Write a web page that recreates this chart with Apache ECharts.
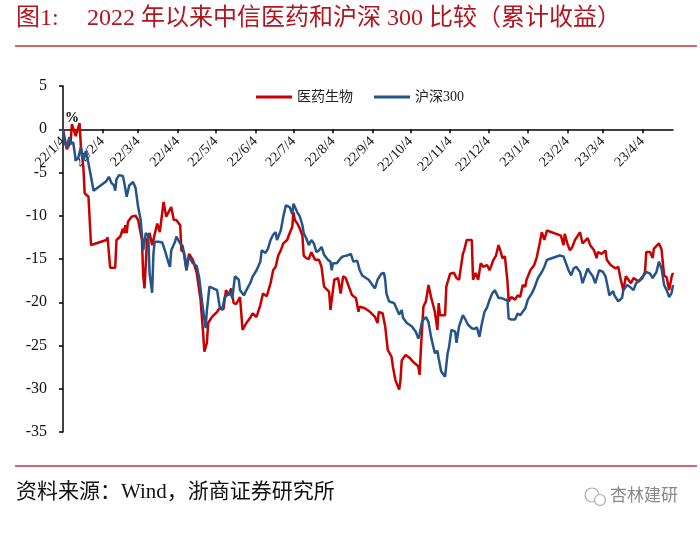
<!DOCTYPE html>
<html>
<head>
<meta charset="utf-8">
<title>医药生物 vs 沪深300</title>
<script src="https://cdn.jsdelivr.net/npm/echarts@6/dist/echarts.min.js"></script>
<style>
  html, body { margin: 0; padding: 0; background: #fff; }
  #main { width: 700px; height: 535px; }
</style>
</head>
<body>
<div id="main"></div>
<script>
// 累计收益（%），按日期读图
var seriesNames = ['医药生物', '沪深300']

var tickLabels = ['22/1/4', '22/2/4', '22/3/4', '22/4/4', '22/5/4', '22/6/4', '22/7/4', '22/8/4',
  '22/9/4', '22/10/4', '22/11/4', '22/12/4', '23/1/4', '23/2/4', '23/3/4', '23/4/4']

var yTicks = [5, 0, -5, -10, -15, -20, -25, -30, -35]

var xRange = ['2022-01-04', '2023-04-28']

var medData = [
  ['2022-01-04', 0], ['2022-01-07', -2.3], ['2022-01-10', -1.5], ['2022-01-11', 0.6], ['2022-01-14', -0.8], ['2022-01-17', 0.7],
  ['2022-01-18', -1.9], ['2022-01-20', -4.4], ['2022-01-21', -7.4], ['2022-01-24', -7.8], ['2022-01-26', -13.4], ['2022-01-28', -13.3],
  ['2022-02-07', -12.8], ['2022-02-08', -12.5], ['2022-02-10', -16.0], ['2022-02-14', -16.0], ['2022-02-15', -12.8], ['2022-02-18', -12.4],
  ['2022-02-20', -11.5], ['2022-02-21', -12.0], ['2022-02-22', -11.1], ['2022-02-23', -12.0], ['2022-02-24', -10.7], ['2022-02-27', -10.1],
  ['2022-03-02', -10.0], ['2022-03-04', -10.5], ['2022-03-07', -12.8], ['2022-03-08', -17.0], ['2022-03-09', -18.4], ['2022-03-11', -12.8],
  ['2022-03-13', -12.0], ['2022-03-15', -13.4], ['2022-03-19', -10.9], ['2022-03-21', -11.9], ['2022-03-24', -8.4], ['2022-03-26', -10.1],
  ['2022-03-30', -9.0], ['2022-04-01', -10.5], ['2022-04-03', -10.5], ['2022-04-06', -11.1], ['2022-04-07', -14.0], ['2022-04-09', -14.2],
  ['2022-04-11', -16.3], ['2022-04-13', -14.4], ['2022-04-16', -15.1], ['2022-04-19', -16.6], ['2022-04-22', -19.7], ['2022-04-24', -23.5],
  ['2022-04-25', -25.7], ['2022-04-27', -24.7], ['2022-04-28', -22.4], ['2022-05-01', -21.7], ['2022-05-05', -21.1], ['2022-05-07', -20.7],
  ['2022-05-10', -20.8], ['2022-05-12', -18.6], ['2022-05-14', -19.2], ['2022-05-16', -18.4], ['2022-05-18', -20.1], ['2022-05-20', -20.2],
  ['2022-05-23', -19.4], ['2022-05-25', -23.2], ['2022-05-28', -22.4], ['2022-05-31', -21.8], ['2022-06-02', -21.3], ['2022-06-05', -21.7],
  ['2022-06-08', -20.3], ['2022-06-10', -19.0], ['2022-06-13', -19.3], ['2022-06-16', -17.8], ['2022-06-18', -16.3], ['2022-06-20', -15.9],
  ['2022-06-22', -14.6], ['2022-06-24', -14.0], ['2022-06-26', -13.2], ['2022-06-29', -12.8], ['2022-07-01', -12.0], ['2022-07-03', -11.3],
  ['2022-07-04', -9.6], ['2022-07-05', -10.5], ['2022-07-07', -10.9], ['2022-07-09', -11.5], ['2022-07-11', -12.3], ['2022-07-12', -14.6],
  ['2022-07-14', -14.9], ['2022-07-16', -15.0], ['2022-07-18', -14.2], ['2022-07-21', -15.1], ['2022-07-24', -15.1], ['2022-07-26', -15.9],
  ['2022-07-28', -18.2], ['2022-08-01', -18.8], ['2022-08-02', -20.9], ['2022-08-04', -18.6], ['2022-08-05', -17.4], ['2022-08-08', -17.2],
  ['2022-08-10', -19.0], ['2022-08-12', -17.0], ['2022-08-14', -17.2], ['2022-08-16', -18.0], ['2022-08-19', -19.2], ['2022-08-22', -19.5],
  ['2022-08-24', -21.1], ['2022-08-25', -20.5], ['2022-08-29', -20.7], ['2022-09-02', -21.1], ['2022-09-06', -21.7], ['2022-09-08', -22.4],
  ['2022-09-09', -21.1], ['2022-09-12', -21.3], ['2022-09-14', -22.8], ['2022-09-16', -25.5], ['2022-09-19', -26.3], ['2022-09-20', -27.4],
  ['2022-09-22', -29.0], ['2022-09-25', -30.1], ['2022-09-26', -29.0], ['2022-09-27', -26.7], ['2022-09-30', -26.1], ['2022-10-03', -26.4],
  ['2022-10-06', -26.9], ['2022-10-10', -27.4], ['2022-10-11', -28.4], ['2022-10-12', -25.5], ['2022-10-14', -20.5], ['2022-10-16', -19.9],
  ['2022-10-18', -18.0], ['2022-10-20', -19.4], ['2022-10-21', -19.4], ['2022-10-23', -21.1], ['2022-10-25', -23.2], ['2022-10-26', -20.1],
  ['2022-10-27', -21.5], ['2022-10-31', -21.5], ['2022-11-01', -18.2], ['2022-11-04', -16.7], ['2022-11-07', -16.6], ['2022-11-09', -17.2],
  ['2022-11-11', -17.4], ['2022-11-14', -14.4], ['2022-11-15', -14.0], ['2022-11-17', -12.8], ['2022-11-21', -12.8], ['2022-11-22', -17.4],
  ['2022-11-24', -16.6], ['2022-11-26', -17.4], ['2022-11-28', -15.5], ['2022-11-30', -15.9], ['2022-12-03', -15.7], ['2022-12-05', -16.3],
  ['2022-12-08', -15.1], ['2022-12-10', -14.6], ['2022-12-12', -13.4], ['2022-12-14', -14.3], ['2022-12-15', -14.9], ['2022-12-17', -14.7],
  ['2022-12-19', -17.6], ['2022-12-20', -19.9], ['2022-12-22', -19.4], ['2022-12-25', -19.7], ['2022-12-27', -19.2], ['2022-12-29', -19.4],
  ['2022-12-31', -18.0], ['2023-01-02', -18.2], ['2023-01-03', -17.4], ['2023-01-06', -16.3], ['2023-01-09', -15.7], ['2023-01-11', -14.8],
  ['2023-01-13', -13.4], ['2023-01-15', -11.9], ['2023-01-17', -12.8], ['2023-01-19', -11.7], ['2023-01-20', -11.7], ['2023-01-30', -12.3],
  ['2023-02-01', -13.4], ['2023-02-02', -12.1], ['2023-02-04', -13.2], ['2023-02-06', -14.0], ['2023-02-08', -13.6], ['2023-02-10', -12.8],
  ['2023-02-14', -11.9], ['2023-02-16', -13.2], ['2023-02-17', -13.4], ['2023-02-20', -12.6], ['2023-02-22', -13.4], ['2023-02-25', -14.0],
  ['2023-02-27', -14.9], ['2023-02-28', -14.2], ['2023-03-03', -14.4], ['2023-03-06', -14.0], ['2023-03-07', -15.1], ['2023-03-10', -15.7],
  ['2023-03-14', -16.1], ['2023-03-16', -15.9], ['2023-03-18', -17.4], ['2023-03-20', -18.6], ['2023-03-22', -17.0], ['2023-03-23', -16.9],
  ['2023-03-26', -17.8], ['2023-03-28', -17.2], ['2023-03-29', -17.0], ['2023-04-01', -17.6], ['2023-04-04', -17.2], ['2023-04-06', -16.5],
  ['2023-04-07', -14.2], ['2023-04-10', -14.2], ['2023-04-12', -14.9], ['2023-04-13', -13.8], ['2023-04-17', -13.2], ['2023-04-19', -13.9],
  ['2023-04-21', -16.9], ['2023-04-23', -17.1], ['2023-04-25', -18.6], ['2023-04-27', -17.0], ['2023-04-28', -16.6]
]

var hs300Data = [
  ['2022-01-04', 0], ['2022-01-05', -1.5], ['2022-01-07', -2.1], ['2022-01-09', -0.9], ['2022-01-10', -1.7], ['2022-01-12', -1.5],
  ['2022-01-14', -3.6], ['2022-01-16', -3.3], ['2022-01-18', -2.1], ['2022-01-20', -3.6], ['2022-01-22', -2.5], ['2022-01-23', -3.2],
  ['2022-01-24', -3.1], ['2022-01-26', -5.5], ['2022-01-28', -7.1], ['2022-02-07', -6.0], ['2022-02-08', -5.8], ['2022-02-09', -5.5],
  ['2022-02-11', -6.2], ['2022-02-13', -6.5], ['2022-02-14', -7.1], ['2022-02-15', -5.8], ['2022-02-17', -5.3], ['2022-02-20', -5.4],
  ['2022-02-21', -6.1], ['2022-02-23', -7.8], ['2022-02-25', -6.5], ['2022-02-28', -6.1], ['2022-03-01', -6.2], ['2022-03-02', -6.8],
  ['2022-03-04', -9.0], ['2022-03-06', -10.5], ['2022-03-08', -14.0], ['2022-03-10', -12.0], ['2022-03-12', -12.3], ['2022-03-13', -16.7],
  ['2022-03-15', -18.9], ['2022-03-16', -14.4], ['2022-03-17', -13.0], ['2022-03-20', -13.0], ['2022-03-23', -13.1], ['2022-03-25', -14.0],
  ['2022-03-28', -15.5], ['2022-03-29', -15.9], ['2022-03-30', -14.0], ['2022-04-02', -13.0], ['2022-04-03', -12.4], ['2022-04-06', -13.2],
  ['2022-04-08', -13.5], ['2022-04-11', -16.3], ['2022-04-12', -14.8], ['2022-04-14', -15.0], ['2022-04-16', -15.5], ['2022-04-19', -15.8],
  ['2022-04-21', -17.2], ['2022-04-24', -20.9], ['2022-04-26', -23.0], ['2022-04-27', -20.9], ['2022-04-29', -18.2], ['2022-05-02', -18.4],
  ['2022-05-05', -18.6], ['2022-05-07', -20.5], ['2022-05-09', -20.9], ['2022-05-11', -19.4], ['2022-05-13', -19.2], ['2022-05-15', -18.8],
  ['2022-05-17', -19.5], ['2022-05-19', -17.0], ['2022-05-22', -17.4], ['2022-05-23', -18.6], ['2022-05-26', -19.2], ['2022-05-28', -18.6],
  ['2022-05-31', -17.8], ['2022-06-02', -17.0], ['2022-06-05', -16.3], ['2022-06-08', -15.3], ['2022-06-09', -14.0], ['2022-06-12', -14.3],
  ['2022-06-14', -13.8], ['2022-06-16', -12.8], ['2022-06-18', -12.2], ['2022-06-20', -11.9], ['2022-06-21', -12.8], ['2022-06-24', -11.7],
  ['2022-06-26', -10.1], ['2022-06-28', -8.8], ['2022-07-01', -9.0], ['2022-07-03', -9.8], ['2022-07-04', -8.6], ['2022-07-07', -9.6],
  ['2022-07-09', -10.1], ['2022-07-11', -11.1], ['2022-07-12', -12.0], ['2022-07-14', -12.6], ['2022-07-16', -13.4], ['2022-07-18', -12.8],
  ['2022-07-20', -13.2], ['2022-07-22', -14.2], ['2022-07-24', -14.0], ['2022-07-26', -13.6], ['2022-07-28', -14.5], ['2022-07-31', -15.1],
  ['2022-08-02', -15.3], ['2022-08-03', -16.3], ['2022-08-04', -15.5], ['2022-08-07', -15.5], ['2022-08-10', -14.9], ['2022-08-12', -14.7],
  ['2022-08-15', -14.6], ['2022-08-18', -14.4], ['2022-08-20', -15.3], ['2022-08-23', -15.2], ['2022-08-25', -16.3], ['2022-08-27', -16.9],
  ['2022-08-29', -17.1], ['2022-09-01', -17.4], ['2022-09-03', -17.8], ['2022-09-06', -18.4], ['2022-09-08', -17.4], ['2022-09-11', -16.7],
  ['2022-09-13', -16.6], ['2022-09-14', -17.4], ['2022-09-15', -19.0], ['2022-09-17', -19.9], ['2022-09-19', -20.0], ['2022-09-21', -20.1],
  ['2022-09-24', -21.1], ['2022-09-25', -21.4], ['2022-09-27', -20.9], ['2022-09-28', -21.8], ['2022-10-01', -22.4], ['2022-10-05', -22.8],
  ['2022-10-08', -23.4], ['2022-10-10', -24.2], ['2022-10-11', -23.7], ['2022-10-13', -22.2], ['2022-10-16', -21.7], ['2022-10-18', -22.3],
  ['2022-10-20', -24.0], ['2022-10-23', -25.9], ['2022-10-25', -25.6], ['2022-10-26', -26.5], ['2022-10-28', -28.0], ['2022-10-31', -28.6],
  ['2022-11-02', -25.9], ['2022-11-03', -25.3], ['2022-11-05', -23.2], ['2022-11-08', -23.4], ['2022-11-09', -24.7], ['2022-11-11', -22.8],
  ['2022-11-14', -21.5], ['2022-11-16', -22.0], ['2022-11-18', -22.6], ['2022-11-21', -23.0], ['2022-11-23', -23.1], ['2022-11-25', -22.9],
  ['2022-11-27', -24.0], ['2022-11-29', -22.4], ['2022-12-01', -21.1], ['2022-12-03', -20.6], ['2022-12-05', -19.7], ['2022-12-07', -19.0],
  ['2022-12-09', -18.6], ['2022-12-12', -19.5], ['2022-12-14', -19.5], ['2022-12-17', -19.7], ['2022-12-19', -19.7], ['2022-12-20', -21.9],
  ['2022-12-22', -22.0], ['2022-12-25', -22.0], ['2022-12-27', -21.3], ['2022-12-29', -21.5], ['2022-12-31', -21.1], ['2023-01-02', -20.7],
  ['2023-01-04', -19.7], ['2023-01-07', -19.0], ['2023-01-09', -18.4], ['2023-01-12', -17.2], ['2023-01-15', -16.5], ['2023-01-17', -15.9],
  ['2023-01-19', -15.1], ['2023-01-21', -15.0], ['2023-01-25', -14.8], ['2023-01-29', -14.6], ['2023-02-01', -14.7], ['2023-02-02', -15.1],
  ['2023-02-05', -16.3], ['2023-02-07', -16.9], ['2023-02-09', -16.1], ['2023-02-11', -15.9], ['2023-02-14', -16.5], ['2023-02-16', -17.8],
  ['2023-02-19', -16.5], ['2023-02-20', -16.1], ['2023-02-22', -16.6], ['2023-02-24', -17.0], ['2023-02-26', -17.8], ['2023-03-01', -16.3],
  ['2023-03-04', -16.5], ['2023-03-06', -17.0], ['2023-03-08', -18.4], ['2023-03-09', -19.2], ['2023-03-12', -18.7], ['2023-03-13', -19.2],
  ['2023-03-16', -19.9], ['2023-03-19', -19.5], ['2023-03-20', -18.6], ['2023-03-23', -18.0], ['2023-03-25', -18.2], ['2023-03-28', -18.6],
  ['2023-03-30', -17.8], ['2023-04-02', -17.4], ['2023-04-05', -16.9], ['2023-04-07', -16.5], ['2023-04-10', -16.7], ['2023-04-12', -17.2],
  ['2023-04-15', -16.5], ['2023-04-17', -15.3], ['2023-04-19', -16.1], ['2023-04-21', -18.0], ['2023-04-23', -18.6], ['2023-04-25', -19.4],
  ['2023-04-27', -18.9], ['2023-04-28', -18.0]
]

var serifFont = '"Liberation Serif", "Noto Sans CJK SC", serif'
var cjkFont = '"Liberation Serif", "Noto Sans CJK SC", sans-serif'

// 日期字符串 -> 时间戳（本地时间）
function toTime (s) {
  var p = s.split('-').map(Number)
  return new Date(p[0], p[1] - 1, p[2]).getTime()
}

var tickTimes = tickLabels.map(function (s) {
  var p = s.split('/').map(Number)
  return new Date(2000 + p[0], p[1] - 1, p[2]).getTime()
})

function toPoints (arr) {
  return arr.map(function (d) {
    return [toTime(d[0]), d[1]]
  })
}

var gridTop = 86
var gridBottom = 103
var yMin = -35
var yMax = 5
// 横轴放在 0 线上（连同标签一起上移）
var plotHeight = 535 - gridTop - gridBottom
var zeroOffset = -plotHeight * (0 - yMin) / (yMax - yMin)

var myChart = echarts.init(document.getElementById('main'), null, { renderer: 'canvas' })

var option = {
  backgroundColor: '#fff',
  animation: false,
  legend: {
    data: seriesNames,
    left: 251,
    top: 85,
    icon: 'rect',
    itemWidth: 36,
    itemHeight: 3,
    itemGap: 21,
    textStyle: {
      fontFamily: cjkFont,
      fontSize: 14,
      color: '#222'
    }
  },
  grid: {
    left: 63,
    right: 27,
    top: gridTop,
    bottom: gridBottom,
    containLabel: false
  },
  xAxis: {
    type: 'value',
    min: toTime(xRange[0]),
    max: toTime(xRange[1]),
    position: 'bottom',
    offset: zeroOffset,
    axisLine: {
      onZero: false,
      lineStyle: { color: '#000', width: 1.5 }
    },
    axisTick: {
      show: true,
      length: 4,
      customValues: tickTimes,
      lineStyle: { color: '#000', width: 1.5 }
    },
    axisLabel: {
      customValues: tickTimes,
      rotate: 45,
      margin: 10,
      color: '#111',
      fontFamily: serifFont,
      fontSize: 14,
      formatter: function (v) {
        var i = tickTimes.indexOf(v)
        return i >= 0 ? tickLabels[i] : ''
      }
    },
    splitLine: { show: false }
  },
  yAxis: {
    type: 'value',
    min: yMin,
    max: yMax,
    interval: 5,
    axisLine: {
      show: true,
      lineStyle: { color: '#000', width: 1.5 }
    },
    axisTick: {
      show: true,
      length: 4,
      lineStyle: { color: '#000', width: 1.5 }
    },
    axisLabel: {
      margin: 16,
      color: '#111',
      fontFamily: serifFont,
      fontSize: 16,
      formatter: function (v) {
        return yTicks.indexOf(v) >= 0 ? String(v) : ''
      }
    },
    splitLine: { show: false }
  },
  series: [
    {
      name: seriesNames[0],
      type: 'line',
      symbol: 'none',
      smooth: false,
      lineStyle: { color: '#C80000', width: 2.5 },
      itemStyle: { color: '#C80000' },
      data: toPoints(medData)
    },
    {
      name: seriesNames[1],
      type: 'line',
      symbol: 'none',
      smooth: false,
      lineStyle: { color: '#24548A', width: 2.5 },
      itemStyle: { color: '#24548A' },
      data: toPoints(hs300Data)
    }
  ],
  graphic: [
    {
      type: 'text',
      left: 16,
      top: 7,
      style: { text: '图1:', fill: '#B4141E', font: '24px ' + cjkFont }
    },
    {
      type: 'text',
      left: 87,
      top: 7,
      style: { text: '2022 年以来中信医药和沪深 300 比较（累计收益）', fill: '#B4141E', font: '24px ' + cjkFont }
    },
    {
      type: 'line',
      shape: { x1: 15, y1: 46, x2: 697, y2: 46 },
      style: { stroke: '#C8323A', lineWidth: 1.5 }
    },
    {
      type: 'text',
      left: 65,
      top: 111,
      style: { text: '%', fill: '#000', font: 'bold 14px ' + serifFont }
    },
    {
      type: 'line',
      shape: { x1: 15, y1: 466, x2: 697, y2: 466 },
      style: { stroke: '#C8323A', lineWidth: 1.5 }
    },
    {
      type: 'text',
      left: 16,
      top: 482,
      style: { text: '资料来源：Wind，浙商证券研究所', fill: '#111', font: '21px ' + cjkFont }
    },
    {
      type: 'circle',
      shape: { cx: 592, cy: 495, r: 7 },
      style: { fill: 'none', stroke: '#aaa', lineWidth: 1.2 }
    },
    {
      type: 'circle',
      shape: { cx: 600, cy: 500, r: 5.5 },
      style: { fill: '#fff', stroke: '#aaa', lineWidth: 1.2 }
    },
    {
      type: 'text',
      left: 610,
      top: 486,
      style: { text: '杏林建研', fill: '#888', font: '17px "Noto Sans CJK SC", sans-serif' }
    }
  ]
}

myChart.setOption(option)
window.onresize = function () {
  myChart.resize()
}
</script>
</body>
</html>
